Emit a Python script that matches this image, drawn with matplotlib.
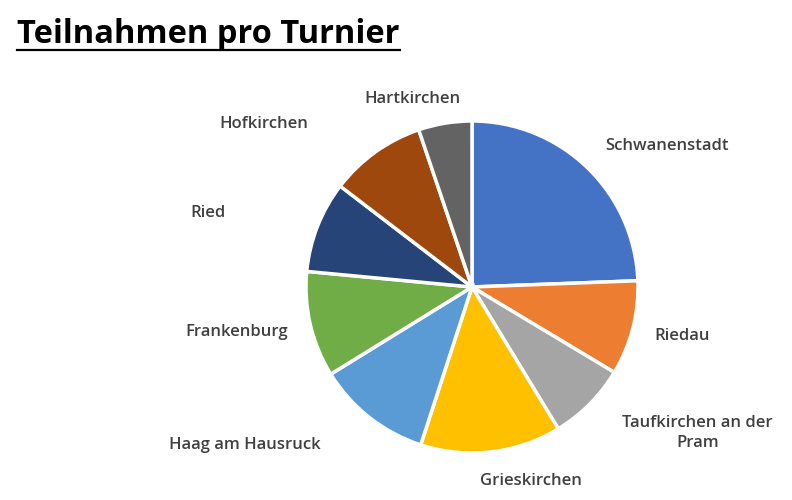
import numpy as np
import matplotlib
matplotlib.use('Agg')
import matplotlib.pyplot as plt

# Teilnahmen pro Turnier (Anteile in %, aus dem Bild geschaetzt)
orte = ['Schwanenstadt', 'Riedau', 'Taufkirchen an der\nPram', 'Grieskirchen',
        'Haag am Hausruck', 'Frankenburg', 'Ried', 'Hofkirchen', 'Hartkirchen']
teilnahmen = [24.4, 9.2, 7.7, 13.7, 11.2, 10.3, 8.9, 9.4, 5.2]
farben = ['#4472C4', '#ED7D31', '#A5A5A5', '#FFC000', '#5B9BD5',
          '#70AD47', '#264478', '#9E480E', '#636363']

# label placement relative to each wedge: (distance in radii, angle nudge in deg)
label_dist = [1.45, 1.30, 1.62, 1.22, 1.67, 1.44, 1.65, 1.59, 1.19]
label_nudge = [-10.3, 1.4, 11.9, 10.3, -17.0, -2.4, 5.8, 16.3, 8.1]


def main() -> None:
  plt.rcParams['font.family'] = ['Open Sans', 'DejaVu Sans']

  W, H, dpi = 792, 500, 100
  cx, cy, R = 472, 287, 166
  fig = plt.figure(figsize=(W / dpi, H / dpi), dpi=dpi)
  ax = fig.add_axes([0, 0, 1, 1])

  wedges, _ = ax.pie(teilnahmen, colors=farben, startangle=90, counterclock=False,
                     radius=1.0, wedgeprops=dict(edgecolor='white', linewidth=2.5))

  # pie() resets the limits, so set them afterwards
  ax.set_xlim(-cx / R, (W - cx) / R)
  ax.set_ylim(-(H - cy) / R, cy / R)
  ax.set_aspect('equal')
  ax.axis('off')

  for w, name, d, nudge in zip(wedges, orte, label_dist, label_nudge):
    mid = np.deg2rad((w.theta1 + w.theta2) / 2 + nudge)
    ax.text(d * np.cos(mid), d * np.sin(mid), name, ha='center', va='center',
            fontsize=12, fontweight='semibold', color='#404040', linespacing=1.3)

  fig.text(17 / W, 1 - 34 / H, 'Teilnahmen pro Turnier', ha='left', va='center',
           fontsize=23.5, fontweight='bold', color='black')
  fig.add_artist(plt.Line2D([17 / W, 400 / W], [1 - 50 / H, 1 - 50 / H],
                            color='black', linewidth=1.6))

  fig.savefig('out.png', dpi=dpi, facecolor='white')


if __name__ == '__main__':
  main()
